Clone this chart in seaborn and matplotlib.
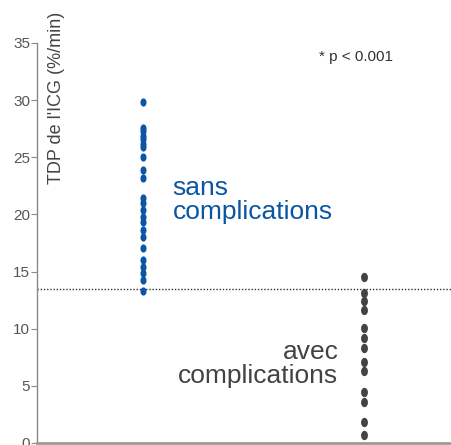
import numpy as np
import pandas as pd
import matplotlib
matplotlib.use("Agg")
import matplotlib.pyplot as plt
import seaborn as sns

groups = ["sans complications", "avec complications"]
sans_values = [29.8, 27.6, 27.3, 26.9, 26.6, 26.2, 25.9, 25.0, 23.9, 23.2,
               21.4, 21.0, 20.4, 19.8, 19.3, 18.6, 18.0, 17.1, 16.0, 15.4,
               14.9, 14.3, 13.3]
avec_values = [14.5, 13.1, 12.4, 11.6, 10.1, 9.2, 8.3, 7.1, 6.3, 4.5, 3.6,
               1.8, 0.7]
threshold = 13.5
y_ticks = [0, 5, 10, 15, 20, 25, 30, 35]

blue = "#0b56a4"
dark = "#434343"

df = pd.DataFrame({
    "groupe": [groups[0]] * len(sans_values) + [groups[1]] * len(avec_values),
    "valeur": sans_values + avec_values,
})

sns.set_theme(style="white")
plt.rcParams["font.family"] = ["Liberation Sans", "DejaVu Sans"]

fig = plt.figure(figsize=(4.52, 4.45), dpi=100)
ax = fig.add_axes([37 / 452, 1 - 443 / 445, 1 - 37 / 452, 400 / 445])

t = np.linspace(0, 2 * np.pi, 40)
ellipse = np.column_stack([0.74 * np.cos(t), np.sin(t)])

sns.stripplot(data=df[df.groupe == groups[0]], x="groupe", y="valeur",
              order=groups, jitter=False, color=blue, marker=ellipse,
              size=5.9, linewidth=0, ax=ax)
sns.stripplot(data=df[df.groupe == groups[1]], x="groupe", y="valeur",
              order=groups, jitter=False, color=dark, marker=ellipse,
              size=6.7, linewidth=0, ax=ax)

ax.axhline(threshold, color="#333333", linestyle=(0, (1, 1.3)), linewidth=1.0,
           zorder=0)

ax.set_xlim(-0.48, 1.40)
ax.set_ylim(0, 35)
ax.set_yticks(y_ticks)
ax.set_xticks([])
ax.set_xlabel("")
ax.set_ylabel("")
for s in ["top", "right"]:
    ax.spines[s].set_visible(False)
ax.spines["left"].set_color("#8a8a8a")
ax.spines["left"].set_linewidth(1.0)
ax.spines["bottom"].set_color("#9a9a9a")
ax.spines["bottom"].set_linewidth(2.0)
ax.tick_params(axis="y", which="both", left=True, length=4, width=0.8,
               color="#8a8a8a", labelcolor="#555555", labelsize=11, pad=1)

fig.text(57 / 452, 1 - 12 / 445, "TDP de l'ICG (%/min)", rotation=90,
         ha="center", va="top", fontsize=13, color="#444444")
fig.text(356 / 452, 1 - 57 / 445, "* p < 0.001", ha="center", va="center",
         fontsize=11, color="#333333")
ax.text(0.135, 21.3, "sans\ncomplications", ha="left", va="center",
        fontsize=19, color=blue, linespacing=1.0)
ax.text(0.885, 6.9, "avec\ncomplications", ha="right", va="center",
        fontsize=19, color=dark, linespacing=1.0)

fig.savefig("out.png", dpi=100)
